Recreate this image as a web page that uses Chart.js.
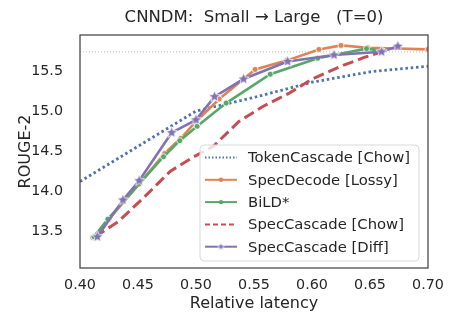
<!DOCTYPE html>
<html>
<head>
<meta charset="utf-8">
<script src="https://cdn.jsdelivr.net/npm/chart.js@4.4.1/dist/chart.umd.min.js"></script>
<style>
  html, body { margin: 0; padding: 0; background: #fff; }
  #wrap { width: 462px; height: 330px; }
</style>
</head>
<body>
<div id="wrap"><canvas id="rougeChart" width="462" height="330"></canvas></div>
<script>
// values
var tokenX = [0.40, 0.45, 0.50, 0.55, 0.60, 0.65, 0.70];
var tokenY = [14.12, 14.56, 15.00, 15.17, 15.36, 15.49, 15.56];

var lossyX = [0.411, 0.425, 0.451, 0.473, 0.487, 0.500, 0.520, 0.551, 0.578, 0.606, 0.625, 0.648, 0.700];
var lossyY = [13.42, 13.65, 14.09, 14.47, 14.66, 14.87, 15.15, 15.52, 15.63, 15.77, 15.82, 15.79, 15.77];

var bildX = [0.412, 0.424, 0.472, 0.486, 0.501, 0.526, 0.564, 0.605, 0.647, 0.661];
var bildY = [13.43, 13.65, 14.43, 14.63, 14.81, 15.10, 15.46, 15.66, 15.78, 15.75];

var chowX = [0.413, 0.433, 0.455, 0.478, 0.497, 0.515, 0.537, 0.558, 0.580, 0.600, 0.625, 0.645, 0.660];
var chowY = [13.43, 13.62, 13.92, 14.25, 14.42, 14.56, 14.87, 15.06, 15.22, 15.40, 15.56, 15.67, 15.74];

var diffX = [0.415, 0.437, 0.451, 0.479, 0.500, 0.516, 0.541, 0.579, 0.619, 0.660, 0.674];
var diffY = [13.43, 13.89, 14.13, 14.73, 14.89, 15.18, 15.40, 15.62, 15.70, 15.74, 15.81];

var largeX = [0.40, 0.70];
var largeY = [15.74, 15.74];

var xTicks = [0.40, 0.45, 0.50, 0.55, 0.60, 0.65, 0.70];
var yTicks = [13.5, 14.0, 14.5, 15.0, 15.5];

var chartTitle = 'CNNDM:  Small \u2192 Large   (T=0)';
var seriesNames = ['TokenCascade [Chow]', 'SpecDecode [Lossy]', 'BiLD*', 'SpecCascade [Chow]', 'SpecCascade [Diff]'];

var blue = '#4C72B0', orange = '#DD8452', green = '#55A868', red = '#C44E52', purple = '#8172B3';
var textColor = '#262626';
var fontFamily = '"DejaVu Sans", sans-serif';

function pts(xs, ys) {
	return xs.map(function(x, i) { return { x: x, y: ys[i] }; });
}

function makeStar(r, fill) {
	var size = Math.ceil(r * 2 + 3);
	var c = document.createElement('canvas');
	c.width = size; c.height = size;
	var g = c.getContext('2d');
	var cx = size / 2, cy = size / 2;
	g.beginPath();
	for (var i = 0; i < 10; i++) {
		var rad = i % 2 === 0 ? r : r * 0.45;
		var a = -Math.PI / 2 + i * Math.PI / 5;
		var px = cx + rad * Math.cos(a), py = cy + rad * Math.sin(a);
		if (i === 0) g.moveTo(px, py); else g.lineTo(px, py);
	}
	g.closePath();
	g.fillStyle = fill;
	g.fill();
	g.lineWidth = 0.8;
	g.strokeStyle = '#ffffff';
	g.stroke();
	return c;
}

var starBig = makeStar(6, purple);
var starSmall = makeStar(4, purple);

var legendStyles = [
	{ color: blue, dash: [1.5, 2], marker: null },
	{ color: orange, dash: [], marker: 'dot' },
	{ color: green, dash: [], marker: 'dot' },
	{ color: red, dash: [5, 3], marker: null },
	{ color: purple, dash: [], marker: 'star' }
];

// title over the plot area, frame round it and a legend inside it (matplotlib look)
var framePlugin = {
	id: 'frame',
	afterDatasetsDraw: function(chart) {
		var ctx = chart.ctx, a = chart.chartArea;
		ctx.save();

		ctx.font = '16.5px ' + fontFamily;
		ctx.fillStyle = textColor;
		ctx.textAlign = 'center';
		ctx.textBaseline = 'middle';
		ctx.fillText(chartTitle, (a.left + a.right) / 2, 17.5);
		ctx.textAlign = 'left';

		// legend box
		var bx = 200, by = 145, bw = 219, bh = 116;
		ctx.beginPath();
		ctx.roundRect(bx, by, bw, bh, 4);
		ctx.fillStyle = 'rgba(255,255,255,0.8)';
		ctx.fill();
		ctx.lineWidth = 1;
		ctx.strokeStyle = '#d9d9d9';
		ctx.stroke();

		ctx.font = '14.8px ' + fontFamily;
		for (var i = 0; i < seriesNames.length; i++) {
			var yy = 157.5 + i * 22.3;
			var st = legendStyles[i];
			ctx.beginPath();
			ctx.setLineDash(st.dash);
			ctx.lineWidth = 2;
			ctx.strokeStyle = st.color;
			ctx.moveTo(205, yy);
			ctx.lineTo(237, yy);
			ctx.stroke();
			ctx.setLineDash([]);
			if (st.marker === 'dot') {
				ctx.beginPath();
				ctx.arc(221, yy, 2.2, 0, Math.PI * 2);
				ctx.fillStyle = st.color;
				ctx.fill();
			} else if (st.marker === 'star') {
				ctx.drawImage(starSmall, 221 - starSmall.width / 2, yy - starSmall.height / 2);
			}
			ctx.fillStyle = textColor;
			ctx.fillText(seriesNames[i], 248, yy + 1);
		}

		// plot frame
		ctx.lineWidth = 1.25;
		ctx.strokeStyle = '#444444';
		ctx.strokeRect(a.left, a.top, a.right - a.left, a.bottom - a.top);
		ctx.restore();
	}
};

var ctx = document.getElementById('rougeChart');
var rougeChart = new Chart(ctx, {
	type: 'line',
	data: {
		datasets: [{
			label: 'Large',
			data: pts(largeX, largeY),
			borderColor: '#bdbdbd',
			borderWidth: 1,
			borderDash: [1, 2],
			pointRadius: 0,
			order: 6
		}, {
			label: seriesNames[0],
			data: pts(tokenX, tokenY),
			borderColor: blue,
			borderWidth: 2.8,
			borderDash: [2.5, 2.8],
			pointRadius: 0,
			order: 5
		}, {
			label: seriesNames[1],
			data: pts(lossyX, lossyY),
			borderColor: orange,
			backgroundColor: orange,
			borderWidth: 2.6,
			pointRadius: 3,
			pointBorderColor: '#ffffff',
			pointBorderWidth: 0.8,
			order: 4
		}, {
			label: seriesNames[2],
			data: pts(bildX, bildY),
			borderColor: green,
			backgroundColor: green,
			borderWidth: 2.6,
			pointRadius: 3,
			pointBorderColor: '#ffffff',
			pointBorderWidth: 0.8,
			order: 3
		}, {
			label: seriesNames[3],
			data: pts(chowX, chowY),
			borderColor: red,
			borderWidth: 3,
			borderDash: [11, 5],
			pointRadius: 0,
			order: 2
		}, {
			label: seriesNames[4],
			data: pts(diffX, diffY),
			borderColor: purple,
			backgroundColor: purple,
			borderWidth: 2.6,
			pointStyle: starBig,
			pointRadius: 6,
			order: 1
		}]
	},
	options: {
		responsive: false,
		animation: false,
		events: [],
		layout: { padding: { left: 0, right: 34, top: 35, bottom: 0 } },
		plugins: {
			legend: { display: false },
			tooltip: { enabled: false },
			title: { display: false }
		},
		scales: {
			x: {
				type: 'linear',
				min: 0.40,
				max: 0.70,
				grid: { display: false },
				border: { display: false },
				afterBuildTicks: function(scale) {
					scale.ticks = xTicks.map(function(v) { return { value: v }; });
				},
				afterFit: function(scale) { scale.height = 62; },
				ticks: {
					color: textColor,
					padding: 1,
					font: { family: fontFamily, size: 14.3 },
					callback: function(v) { return Number(v).toFixed(2); }
				},
				title: {
					display: true,
					text: 'Relative latency',
					color: textColor,
					font: { family: fontFamily, size: 16 },
					padding: { top: 0, bottom: 17 }
				}
			},
			y: {
				type: 'linear',
				min: 13.04,
				max: 15.95,
				grid: { display: false },
				border: { display: false },
				afterBuildTicks: function(scale) {
					scale.ticks = yTicks.map(function(v) { return { value: v }; });
				},
				afterFit: function(scale) { scale.width = 80; },
				ticks: {
					color: textColor,
					padding: 9,
					font: { family: fontFamily, size: 14.3 },
					callback: function(v) { return Number(v).toFixed(1); }
				},
				title: {
					display: true,
					text: 'ROUGE-2',
					color: textColor,
					font: { family: fontFamily, size: 16 },
					padding: { top: 16, bottom: 0 }
				}
			}
		}
	},
	plugins: [framePlugin]
});
</script>
</body>
</html>
